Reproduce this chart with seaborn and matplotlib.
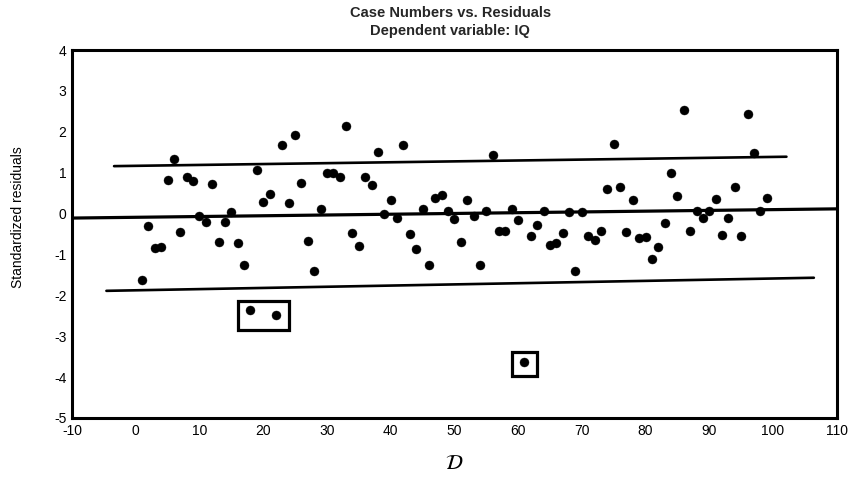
import numpy as np
import pandas as pd
import matplotlib
matplotlib.use("Agg")
import matplotlib.pyplot as plt
from matplotlib.patches import Rectangle
import seaborn as sns

# Standardized residuals by case number
case_numbers = list(range(1, 100))
residuals = [
    -1.62, -0.31, -0.85, -0.82, 0.81, 1.33, -0.46, 0.89, 0.79, -0.07,
    -0.21, 0.72, -0.70, -0.21, 0.05, -0.73, -1.25, -2.37, 1.06, 0.29,
    0.49, -2.49, 1.68, 0.26, 1.92, 0.74, -0.68, -1.40, 0.11, 0.99,
    1.00, 0.90, 2.15, -0.48, -0.80, 0.90, 0.71, 1.50, -0.01, 0.32,
    -0.11, 1.68, -0.51, -0.86, 0.11, -1.27, 0.38, 0.46, 0.07, -0.13,
    -0.70, 0.32, -0.05, -1.25, 0.07, 1.43, -0.43, -0.43, 0.11, -0.15,
    -3.62, -0.55, -0.28, 0.07, -0.78, -0.73, -0.48, 0.05, -1.40, 0.05,
    -0.55, -0.64, -0.43, 0.61, 1.70, 0.66, -0.46, 0.32, -0.60, -0.58,
    -1.11, -0.82, -0.24, 0.99, 0.43, 2.54, -0.43, 0.07, -0.11, 0.07,
    0.36, -0.52, -0.11, 0.64, -0.55, 2.44, 1.47, 0.06, 0.38,
]

# Trend line and the upper / lower bands (endpoints)
trend_x = [-10, 110]
trend_y = [-0.11, 0.115]
upper_x = [-3.4, 102.1]
upper_y = [1.16, 1.39]
lower_x = [-4.6, 106.4]
lower_y = [-1.89, -1.57]

# Groups of flagged cases, each outlined with a box
flagged_groups = [[18, 22], [61]]

x_ticks = list(range(-10, 111, 10))
y_ticks = list(range(-5, 5))

sns.set_theme(style="white")
plt.rcParams["font.family"] = ["Liberation Sans Narrow", "Liberation Sans", "DejaVu Sans"]
plt.rcParams["mathtext.fontset"] = "stix"
plt.rcParams["axes.unicode_minus"] = False

df = pd.DataFrame({"case": case_numbers, "resid": residuals})

fig = plt.figure(figsize=(8.53, 4.87), dpi=100)
ax = fig.add_axes([0.0844, 0.1417, 0.8966, 0.7556])

for xs, ys, lw in [(trend_x, trend_y, 2.3), (upper_x, upper_y, 1.9), (lower_x, lower_y, 1.9)]:
    sns.lineplot(x=xs, y=ys, ax=ax, color="black", linewidth=lw, legend=False)

sns.scatterplot(data=df, x="case", y="resid", ax=ax, color="black",
                s=42, edgecolor="black", linewidth=0.3, legend=False, zorder=3)

# Outline flagged cases
pad_x, pad_y, shift_y = 2.0, 0.3, -0.06
for group in flagged_groups:
    sub = df[df["case"].isin(group)]
    x0 = sub["case"].min() - pad_x
    x1 = sub["case"].max() + pad_x
    y0 = sub["resid"].min() - pad_y + shift_y
    y1 = sub["resid"].max() + pad_y + shift_y
    ax.add_patch(Rectangle((x0, y0), x1 - x0, y1 - y0, fill=False,
                           edgecolor="black", linewidth=2.3, zorder=4))

ax.set_xlim(-10, 110)
ax.set_ylim(-5, 4)
ax.set_xticks(x_ticks)
ax.set_yticks(y_ticks)
ax.tick_params(axis="both", length=0, labelsize=10, colors="black", pad=4)
for spine in ax.spines.values():
    spine.set_color("black")
    spine.set_linewidth(2.2)

ax.set_ylabel("Standardized residuals", fontsize=10, color="black")
ax.yaxis.set_label_coords(-0.061, 0.546)
ax.set_xlabel(r"$\mathcal{D}$", fontsize=15, color="black", labelpad=12)
fig.suptitle("Case Numbers vs. Residuals\nDependent variable: IQ",
             x=0.528, y=0.987, fontsize=10.5, fontweight="bold", linespacing=1.35)

fig.savefig("out.png", dpi=100)
